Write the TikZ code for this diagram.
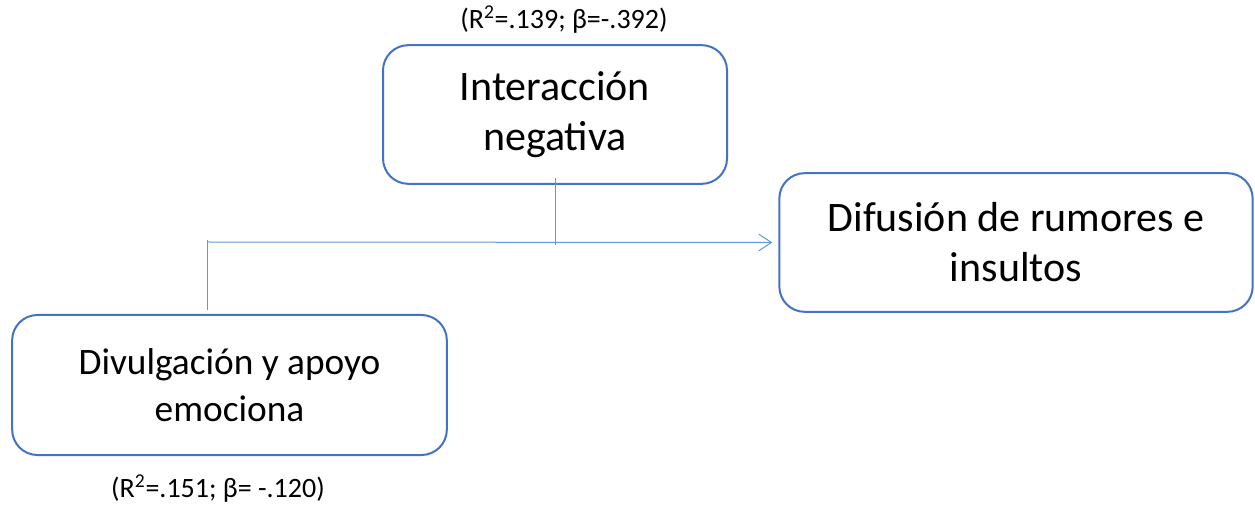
\documentclass[tikz,border=0pt]{standalone}
\usepackage{fontspec}
\setmainfont{Carlito}
\usetikzlibrary{arrows.meta, positioning, calc}
\definecolor{mborder}{HTML}{4472C4}
\definecolor{mline}{HTML}{5B9BD5}
\begin{document}
\begin{tikzpicture}[
    x=0.75pt, y=-0.75pt,
    varbox/.style={draw=mborder, line width=1.5pt, rounded corners=19pt, align=center,
                   inner sep=0pt, font=\fontsize{31.5}{37.5}\selectfont},
    statlabel/.style={font=\fontsize{21}{25}\selectfont, inner sep=0pt},
    conn/.style={draw=mline, line width=0.75pt},
    arr/.style={conn, -{Straight Barb[length=9.5pt, width=12.5pt]}}
  ]
  \useasboundingbox (0,0) rectangle (1255,505);

  % Boxes
  \node[varbox, minimum width=258pt, minimum height=104pt] (neg) at (555, 114.5) {Interacción\\negativa};
  \node[varbox, minimum width=355pt, minimum height=104pt] (dif) at (1016, 242.5) {Difusión de rumores e\\insultos};
  \node[varbox, minimum width=326pt, minimum height=105pt, font=\fontsize{28}{35}\selectfont] (div) at (229.5, 385) {Divulgación y apoyo\\emociona};

  % Coefficients
  \node[statlabel] (negstat) at (564, 20) {(R\textsuperscript{2}=.139; β=-.392)};
  \node[statlabel] (divstat) at (218, 489) {(R\textsuperscript{2}=.151; β= -.120)};

  % Connectors
  \coordinate (jl) at (207, 242);
  \coordinate (jm) at (neg.south |- jl);
  \draw[conn, shorten <=3pt] (div.north -| jl) -- ([yshift=1.5pt]jl);
  \draw[arr, shorten >=4.5pt] (jl) -- (dif.west);
  \draw[conn, shorten <=-5pt, shorten >=-2.5pt] (neg.south) -- (jm);

\end{tikzpicture}
\end{document}
